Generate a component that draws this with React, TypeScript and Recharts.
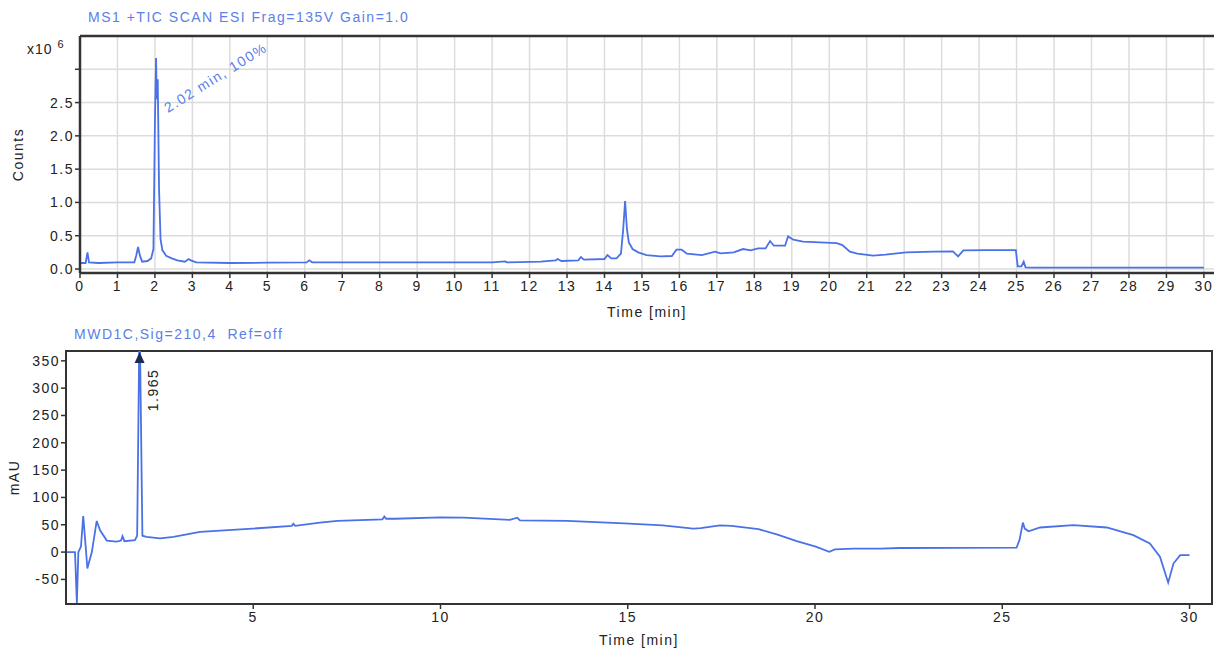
import React from 'react';
import { LineChart, Line, XAxis, YAxis, CartesianGrid, ReferenceLine, ReferenceArea, ReferenceDot } from 'recharts';

// ---- TIC (MS1) data, counts x10^6 ----
const msTime = [0.0, 0.15, 0.2, 0.24, 0.5, 1.0, 1.45, 1.5, 1.55, 1.6, 1.66, 1.8, 1.9, 1.96, 2.0, 2.03, 2.05, 2.075, 2.11, 2.15, 2.2, 2.3, 2.45, 2.6, 2.8, 2.9, 2.96, 3.1, 4.0, 5.0, 6.05, 6.12, 6.2, 7.0, 8.0, 9.0, 10.0, 11.0, 11.35, 11.4, 12.3, 12.7, 12.75, 12.85, 13.3, 13.37, 13.45, 14.0, 14.08, 14.18, 14.32, 14.44, 14.5, 14.55, 14.6, 14.65, 14.75, 14.9, 15.12, 15.5, 15.8, 15.92, 16.06, 16.2, 16.6, 16.95, 17.1, 17.45, 17.7, 17.9, 18.1, 18.3, 18.42, 18.52, 18.82, 18.9, 19.04, 19.3, 19.75, 20.2, 20.35, 20.55, 20.75, 21.17, 21.5, 22.05, 22.8, 23.3, 23.44, 23.58, 24.2, 24.98, 25.03, 25.13, 25.19, 25.24, 25.4, 30.0];
const msCounts = [0.09, 0.09, 0.25, 0.1, 0.09, 0.1, 0.1, 0.2, 0.33, 0.2, 0.11, 0.12, 0.16, 0.3, 2.2, 3.17, 2.55, 2.85, 1.2, 0.45, 0.28, 0.2, 0.16, 0.13, 0.11, 0.15, 0.13, 0.1, 0.09, 0.095, 0.1, 0.13, 0.1, 0.1, 0.1, 0.1, 0.1, 0.1, 0.115, 0.1, 0.11, 0.13, 0.15, 0.12, 0.13, 0.18, 0.14, 0.15, 0.21, 0.16, 0.16, 0.23, 0.6, 1.02, 0.6, 0.4, 0.3, 0.25, 0.21, 0.19, 0.195, 0.29, 0.29, 0.23, 0.21, 0.26, 0.235, 0.25, 0.3, 0.28, 0.31, 0.31, 0.42, 0.35, 0.35, 0.49, 0.44, 0.41, 0.4, 0.39, 0.36, 0.26, 0.23, 0.2, 0.215, 0.25, 0.26, 0.265, 0.19, 0.28, 0.285, 0.285, 0.04, 0.04, 0.11, 0.025, 0.02, 0.02];
const msXTicks = [0, 1, 2, 3, 4, 5, 6, 7, 8, 9, 10, 11, 12, 13, 14, 15, 16, 17, 18, 19, 20, 21, 22, 23, 24, 25, 26, 27, 28, 29, 30];
const msYTicks = [0, 0.5, 1, 1.5, 2, 2.5, 3];

// ---- UV (MWD1C) data, mAU ----
const uvTime = [0.0, 0.24, 0.29, 0.33, 0.4, 0.46, 0.52, 0.57, 0.69, 0.82, 0.91, 1.09, 1.35, 1.47, 1.51, 1.56, 1.84, 1.9, 1.965, 2.04, 2.15, 2.51, 2.87, 3.58, 4.98, 6.03, 6.07, 6.12, 6.78, 7.25, 8.45, 8.5, 8.55, 8.78, 10.0, 10.62, 11.85, 12.05, 12.12, 13.38, 14.91, 15.93, 16.75, 16.95, 17.46, 17.77, 18.49, 19.0, 19.51, 20.02, 20.38, 20.53, 21.04, 21.74, 22.27, 25.38, 25.46, 25.55, 25.6, 25.7, 26.01, 26.9, 27.79, 28.5, 28.94, 29.21, 29.43, 29.57, 29.75, 30.0];
const uvAbs = [0, 0, -93, 0, 10, 66, 15, -30, 0, 57, 40, 21, 19, 21, 29, 20, 22, 30, 440, 30, 28, 25, 28, 37, 43, 48, 52, 48, 54, 57, 60, 65, 61, 61, 63.5, 63, 59, 63, 58, 57, 52.5, 49, 43, 44, 49, 48, 42, 32, 20, 10, 0.5, 5, 6.5, 6.5, 7.5, 8, 22, 54, 43, 38, 45, 49.5, 45, 31, 16, -8.5, -56, -21, -5.5, -5.5];
const uvXTicks = [5, 10, 15, 20, 25, 30];
const uvYTicks = [-50, 0, 50, 100, 150, 200, 250, 300, 350];

const msData = msTime.map((t, i) => ({ t, v: msCounts[i] }));
const uvData = uvTime.map((t, i) => ({ t, v: uvAbs[i] }));

const FONT = '"Liberation Sans", Arial, sans-serif';
const LINE = '#4a72e6';
const TITLE = '#5a80e8';
const AXIS = '#333';
const TXT = '#222';

const tickStyle = { fill: TXT, fontSize: 14, fontFamily: FONT };

export default function App() {
  return (
    <div style={{ position: 'fixed', left: 0, top: 0, width: 1216, height: 649, background: '#fff', fontFamily: FONT, overflow: 'hidden', letterSpacing: '1.5px' }}>
      {/* titles */}
      <div style={{ position: 'absolute', left: 88, top: 9, fontSize: 14, color: TITLE, whiteSpace: 'nowrap' }}>MS1 +TIC SCAN ESI Frag=135V Gain=1.0</div>
      <div style={{ position: 'absolute', left: 27, top: 38, fontSize: 14, color: TXT, whiteSpace: 'nowrap', letterSpacing: '1px' }}>x10 <sup style={{ fontSize: 11 }}>6</sup></div>
      <div style={{ position: 'absolute', left: 74, top: 326, fontSize: 14, color: TITLE, whiteSpace: 'pre' }}>MWD1C,Sig=210,4  Ref=off</div>

      <div style={{ position: 'absolute', left: 0, top: 0 }}>
        <LineChart width={1216} height={330} data={msData} margin={{ top: 36, right: 2, left: 0, bottom: 0 }}>
          <CartesianGrid stroke="#dcdcdc" strokeWidth={1.5} horizontalValues={msYTicks} verticalValues={msXTicks} />
          <XAxis
            dataKey="t"
            type="number"
            domain={[0, 30.27]}
            ticks={msXTicks}
            interval={0}
            height={57}
            tick={tickStyle}
            tickSize={5}
            tickMargin={3}
            axisLine={{ stroke: AXIS, strokeWidth: 2.5 }}
            tickLine={{ stroke: AXIS, strokeWidth: 1.5 }}
            label={{ value: 'Time [min]', position: 'insideBottom', offset: 13, fill: TXT, fontSize: 14, fontFamily: FONT }}
          />
          <YAxis
            type="number"
            domain={[-0.06, 3.5]}
            ticks={msYTicks}
            interval={0}
            width={80}
            allowDataOverflow
            tick={tickStyle}
            tickSize={5}
            tickMargin={1}
            tickFormatter={(v: number) => (v === 3 ? '' : v.toFixed(1))}
            axisLine={{ stroke: AXIS, strokeWidth: 2.5 }}
            tickLine={{ stroke: AXIS, strokeWidth: 1.5 }}
            label={{ value: 'Counts', angle: -90, position: 'insideLeft', offset: 18, fill: TXT, fontSize: 14, fontFamily: FONT, style: { textAnchor: 'middle' } }}
          />
          <ReferenceLine y={3.5} stroke={AXIS} strokeWidth={2.5} />
          <Line type="linear" dataKey="v" stroke={LINE} strokeWidth={1.8} dot={false} isAnimationActive={false} />
          <ReferenceDot
            x={2.03}
            y={3.17}
            r={0}
            shape={(p: any) => (
              <text x={p.cx + 12} y={p.cy + 55} transform={`rotate(-32 ${p.cx + 12} ${p.cy + 55})`} fill={TITLE} fontSize={14} fontFamily={FONT}>2.02 min, 100%</text>
            )}
          />
        </LineChart>
      </div>

      <div style={{ position: 'absolute', left: 0, top: 320 }}>
        <LineChart width={1216} height={329} data={uvData} margin={{ top: 31, right: 4, left: 0, bottom: 0 }}>
          <XAxis
            dataKey="t"
            type="number"
            domain={[0, 30.6]}
            ticks={uvXTicks}
            interval={0}
            height={45}
            tick={tickStyle}
            tickSize={5}
            tickMargin={3}
            axisLine={{ stroke: AXIS, strokeWidth: 2 }}
            tickLine={{ stroke: AXIS, strokeWidth: 1.5 }}
            label={{ value: 'Time [min]', position: 'insideBottom', offset: 4, fill: TXT, fontSize: 14, fontFamily: FONT }}
          />
          <YAxis
            type="number"
            domain={[-95, 368]}
            ticks={uvYTicks}
            interval={0}
            width={66}
            allowDataOverflow
            tick={tickStyle}
            tickSize={5}
            tickMargin={1}
            axisLine={{ stroke: AXIS, strokeWidth: 2 }}
            tickLine={{ stroke: AXIS, strokeWidth: 1.5 }}
            label={{ value: 'mAU', angle: -90, position: 'insideLeft', offset: 14, fill: TXT, fontSize: 14, fontFamily: FONT, style: { textAnchor: 'middle' } }}
          />
          <ReferenceArea x1={0} x2={30.6} y1={-95} y2={368} fill="none" stroke={AXIS} strokeWidth={2} ifOverflow="visible" />
          <Line type="linear" dataKey="v" stroke={LINE} strokeWidth={1.8} dot={false} isAnimationActive={false} />
          <ReferenceDot
            x={1.965}
            y={368}
            r={0}
            shape={(p: any) => (
              <g>
                <polygon points={`${p.cx},${p.cy + 1} ${p.cx - 5},${p.cy + 12} ${p.cx + 5},${p.cy + 12}`} fill="#1a2a55" />
                <text x={p.cx + 18} y={p.cy + 39} transform={`rotate(-90 ${p.cx + 18} ${p.cy + 39})`} textAnchor="middle" fill={TXT} fontSize={14} fontFamily={FONT}>1.965</text>
              </g>
            )}
          />
        </LineChart>
      </div>
    </div>
  );
}
